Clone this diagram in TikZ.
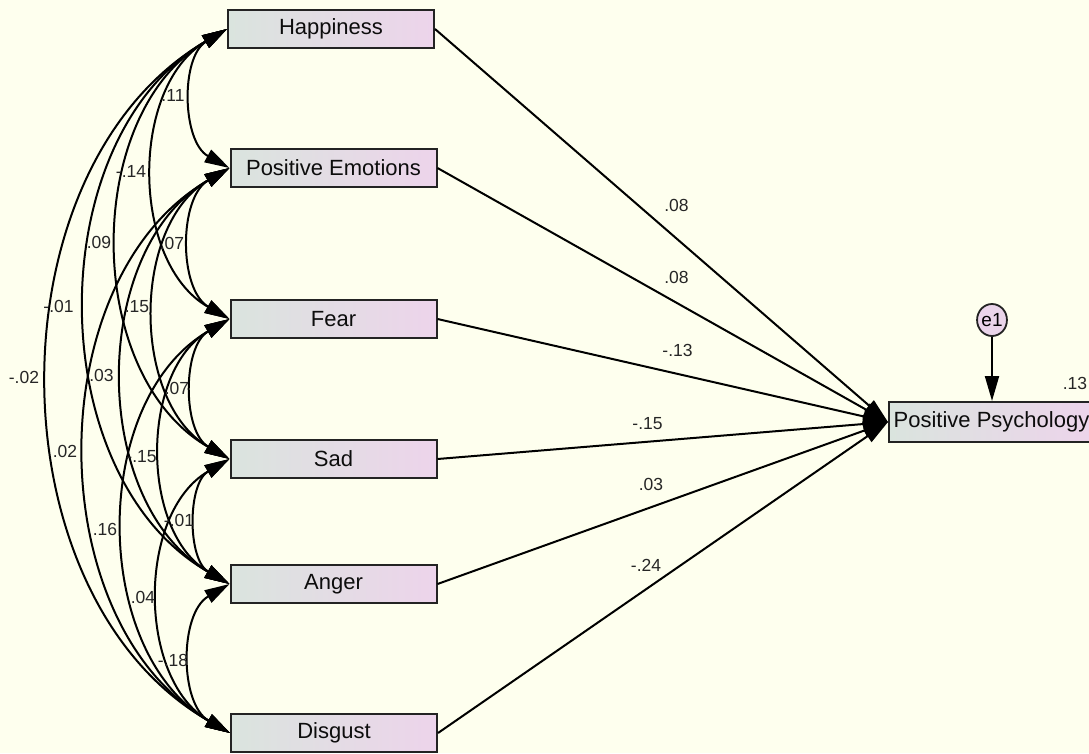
\documentclass[tikz,border=0pt]{standalone}
\usepackage{fontspec}
\setmainfont{Liberation Sans}
\usetikzlibrary{arrows.meta,shapes.geometric}
\definecolor{bg}{RGB}{254,255,238}
\definecolor{boxL}{RGB}{218,228,222}
\definecolor{boxR}{RGB}{237,212,235}
\definecolor{edgec}{RGB}{35,35,35}
\definecolor{ecol}{RGB}{234,212,234}
\begin{document}
\begin{tikzpicture}[x=1pt,y=-1pt,
  var/.style={draw=edgec,line width=2pt,left color=boxL,right color=boxR,minimum height=38pt,minimum width=206pt,inner sep=0pt,font=\fontsize{22}{24}\selectfont,text=black!95},
  cov/.style={{Triangle[length=25pt,width=14pt]}-{Triangle[length=25pt,width=14pt]},line width=2pt,draw=black},
  reg/.style={-{Triangle[length=25pt,width=14pt]},line width=2pt,draw=black},
  lab/.style={font=\fontsize{17.5}{19}\selectfont,text=black!85,inner sep=0pt}]
\useasboundingbox[fill=bg] (0,0) rectangle (1089,753);

\node[var] (h) at (331,29) {Happiness};
\node[var] (p) at (333.5,168) {Positive Emotions};
\node[var] (f) at (333.5,319) {Fear};
\node[var] (s) at (333.5,459) {Sad};
\node[var] (a) at (333.5,584) {Anger};
\node[var] (d) at (334,733) {Disgust};
\node[var,anchor=west,minimum width=205pt,minimum height=40pt] (pp) at (888,422) {Positive Psychology};
\node[ellipse,draw=edgec,line width=1.8pt,fill=ecol,minimum width=27pt,minimum height=32pt,inner sep=0pt,font=\fontsize{19}{20}\selectfont] (e1) at (992,320) {e1};

% covariances
\draw[cov] (h.west) to[bend right=60] (p.west);
\draw[cov] (h.west) to[bend right=60] (f.west);
\draw[cov] (h.west) to[bend right=60] (s.west);
\draw[cov] (h.west) to[bend right=60] (a.west);
\draw[cov] (h.west) to[bend right=60] (d.west);
\draw[cov] (p.west) to[bend right=60] (f.west);
\draw[cov] (p.west) to[bend right=60] (s.west);
\draw[cov] (p.west) to[bend right=60] (a.west);
\draw[cov] (p.west) to[bend right=60] (d.west);
\draw[cov] (f.west) to[bend right=60] (s.west);
\draw[cov] (f.west) to[bend right=60] (a.west);
\draw[cov] (f.west) to[bend right=60] (d.west);
\draw[cov] (s.west) to[bend right=60] (a.west);
\draw[cov] (s.west) to[bend right=60] (d.west);
\draw[cov] (a.west) to[bend right=60] (d.west);

% regressions
\draw[reg] (h.east) -- (pp.west);
\draw[reg] (p.east) -- (pp.west);
\draw[reg] (f.east) -- (pp.west);
\draw[reg] (s.east) -- (pp.west);
\draw[reg] (a.east) -- (pp.west);
\draw[reg] (d.east) -- (pp.west);
\draw[reg] (e1.south) -- (e1.south |- pp.north);

% covariance labels
\node[lab] (l1) at (173,95) {.11};
\node[lab] (l2) at (131,171) {-.14};
\node[lab] (l3) at (99,242.5) {.09};
\node[lab] (l4) at (58.5,306) {-.01};
\node[lab] (l5) at (24,377) {-.02};
\node[lab] (l6) at (172,243) {.07};
\node[lab] (l7) at (137,307) {.15};
\node[lab] (l8) at (101.5,375) {.03};
\node[lab] (l9) at (65,451) {.02};
\node[lab] (l10) at (177,388) {.07};
\node[lab] (l11) at (141.5,456.5) {-.15};
\node[lab] (l12) at (105,529) {.16};
\node[lab] (l13) at (179,520) {-.01};
\node[lab] (l14) at (143,597) {.04};
\node[lab] (l15) at (173,660) {-.18};

% regression labels
\node[lab] (r1) at (676.5,205.5) {.08};
\node[lab] (r2) at (676.5,277.5) {.08};
\node[lab] (r3) at (677.5,350.5) {-.13};
\node[lab] (r4) at (647.5,423.5) {-.15};
\node[lab] (r5) at (651,484.5) {.03};
\node[lab] (r6) at (646,565) {-.24};
\node[lab] (r7) at (1075,383) {.13};
\end{tikzpicture}
\end{document}
